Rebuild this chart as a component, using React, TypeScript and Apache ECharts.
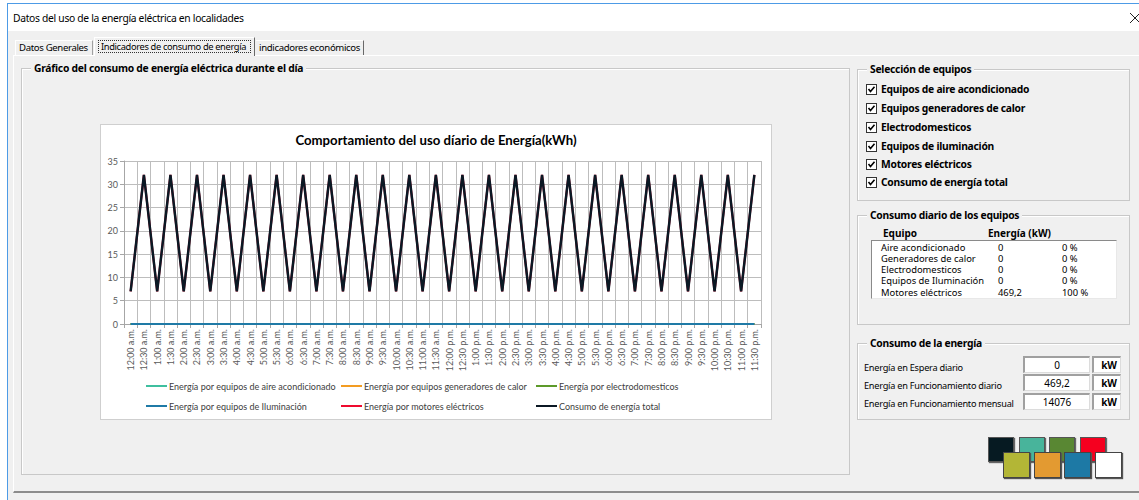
import React, { useEffect, useRef } from "react";
import * as echarts from "echarts";

const categories = [
  "12:00 a.m.", "12:30 a.m.", "1:00 a.m.", "1:30 a.m.", "2:00 a.m.", "2:30 a.m.",
  "3:00 a.m.", "3:30 a.m.", "4:00 a.m.", "4:30 a.m.", "5:00 a.m.", "5:30 a.m.",
  "6:00 a.m.", "6:30 a.m.", "7:00 a.m.", "7:30 a.m.", "8:00 a.m.", "8:30 a.m.",
  "9:00 a.m.", "9:30 a.m.", "10:00 a.m.", "10:30 a.m.", "11:00 a.m.", "11:30 a.m.",
  "12:00 p.m.", "12:30 p.m.", "1:00 p.m.", "1:30 p.m.", "2:00 p.m.", "2:30 p.m.",
  "3:00 p.m.", "3:30 p.m.", "4:00 p.m.", "4:30 p.m.", "5:00 p.m.", "5:30 p.m.",
  "6:00 p.m.", "6:30 p.m.", "7:00 p.m.", "7:30 p.m.", "8:00 p.m.", "8:30 p.m.",
  "9:00 p.m.", "9:30 p.m.", "10:00 p.m.", "10:30 p.m.", "11:00 p.m.", "11:30 p.m.",
];

const aireValues = [
  0, 0, 0, 0, 0, 0, 0, 0, 0, 0, 0, 0, 0, 0, 0, 0, 0, 0, 0, 0, 0, 0, 0, 0,
  0, 0, 0, 0, 0, 0, 0, 0, 0, 0, 0, 0, 0, 0, 0, 0, 0, 0, 0, 0, 0, 0, 0, 0,
];
const calorValues = [
  0, 0, 0, 0, 0, 0, 0, 0, 0, 0, 0, 0, 0, 0, 0, 0, 0, 0, 0, 0, 0, 0, 0, 0,
  0, 0, 0, 0, 0, 0, 0, 0, 0, 0, 0, 0, 0, 0, 0, 0, 0, 0, 0, 0, 0, 0, 0, 0,
];
const electroValues = [
  0, 0, 0, 0, 0, 0, 0, 0, 0, 0, 0, 0, 0, 0, 0, 0, 0, 0, 0, 0, 0, 0, 0, 0,
  0, 0, 0, 0, 0, 0, 0, 0, 0, 0, 0, 0, 0, 0, 0, 0, 0, 0, 0, 0, 0, 0, 0, 0,
];
const iluminacionValues = [
  0, 0, 0, 0, 0, 0, 0, 0, 0, 0, 0, 0, 0, 0, 0, 0, 0, 0, 0, 0, 0, 0, 0, 0,
  0, 0, 0, 0, 0, 0, 0, 0, 0, 0, 0, 0, 0, 0, 0, 0, 0, 0, 0, 0, 0, 0, 0, 0,
];
const motoresValues = [
  7, 32, 7, 32, 7, 32, 7, 32, 7, 32, 7, 32, 7, 32, 7, 32, 7, 32, 7, 32, 7, 32, 7, 32,
  7, 32, 7, 32, 7, 32, 7, 32, 7, 32, 7, 32, 7, 32, 7, 32, 7, 32, 7, 32, 7, 32, 7, 32,
];
const totalValues = [
  7, 32, 7, 32, 7, 32, 7, 32, 7, 32, 7, 32, 7, 32, 7, 32, 7, 32, 7, 32, 7, 32, 7, 32,
  7, 32, 7, 32, 7, 32, 7, 32, 7, 32, 7, 32, 7, 32, 7, 32, 7, 32, 7, 32, 7, 32, 7, 32,
];

const seriesNames = [
  "Energía por equipos de aire acondicionado",
  "Energía por equipos generadores de calor",
  "Energía por electrodomesticos",
  "Energía por equipos de Iluminación",
  "Energía por motores eléctricos",
  "Consumo de energía total",
];
const seriesColors = ["#3fbf9f", "#f39c22", "#5d9a2a", "#1f7aa6", "#ef0a2e", "#0b1824"];

const checkItems = [
  "Equipos de aire acondicionado",
  "Equipos generadores de calor",
  "Electrodomesticos",
  "Equipos de iluminación",
  "Motores eléctricos",
  "Consumo de energía total",
];

const tableEquipos = ["Aire acondicionado", "Generadores de calor", "Electrodomesticos", "Equipos de Iluminación", "Motores eléctricos"];
const tableEnergia = ["0", "0", "0", "0", "469,2"];
const tablePct = ["0 %", "0 %", "0 %", "0 %", "100 %"];

const consumoLabels = ["Energía en Espera diario", "Energía en Funcionamiento diario", "Energía en Funcionamiento mensual"];
const consumoValues = ["0", "469,2", "14076"];

const swatchTop = ["#061a22", "#48b49b", "#598733", "#f5001f"];
const swatchBottom = ["#b3b636", "#e39a31", "#1d79a5", "#ffffff"];

const UI_FONT = "'Noto Sans', 'Liberation Sans', sans-serif";

function Chart() {
  const ref = useRef<HTMLDivElement>(null);
  useEffect(() => {
    if (!ref.current) return;
    const chart = echarts.init(ref.current, undefined, { renderer: "svg" });
    const seriesData = [aireValues, calorValues, electroValues, iluminacionValues, motoresValues, totalValues];
    const widths = [2, 2, 2, 2, 2.1, 2.5];
    const legendBase = {
      orient: "vertical",
      top: 256,
      padding: 0,
      height: 36,
      itemWidth: 21,
      itemHeight: 2,
      itemGap: 10,
      icon: "rect",
      selectedMode: false,
      textStyle: { fontSize: 9, color: "#404040", fontFamily: "Lato", lineHeight: 10, padding: [0, 0, 0, -3] },
    };
    chart.setOption({
      animation: false,
      backgroundColor: "#ffffff",
      textStyle: { fontFamily: "Lato" },
      title: {
        text: "Comportamiento del uso díario de Energía(kWh)",
        left: "center",
        top: 3,
        textStyle: { fontSize: 13.2, fontWeight: "bold", color: "#000", fontFamily: "Lato" },
      },
      grid: { left: 23, right: 10, top: 36, bottom: 95 },
      xAxis: {
        type: "category",
        data: categories,
        boundaryGap: true,
        axisLine: { lineStyle: { color: "#a6a6a6" } },
        axisTick: { show: true, interval: 0, length: 4, lineStyle: { color: "#a6a6a6" } },
        splitLine: { show: true, interval: 0, lineStyle: { color: "#bdbdbd", width: 1 } },
        axisLabel: { interval: 0, rotate: 90, fontSize: 9, color: "#595959", margin: 5, fontFamily: "Lato" },
      },
      yAxis: {
        type: "value",
        min: 0,
        max: 35,
        interval: 5,
        axisLine: { show: true, lineStyle: { color: "#a6a6a6" } },
        axisTick: { show: true, length: 4, lineStyle: { color: "#a6a6a6" } },
        splitLine: { show: true, lineStyle: { color: "#bdbdbd", width: 1 } },
        axisLabel: { fontSize: 9, color: "#595959", margin: 6, fontFamily: "Lato" },
      },
      legend: [
        { ...legendBase, left: 45, data: [seriesNames[0], seriesNames[3]] },
        { ...legendBase, left: 240, data: [seriesNames[1], seriesNames[4]] },
        { ...legendBase, left: 435, data: [seriesNames[2], seriesNames[5]] },
      ],
      series: seriesNames.map((name, i) => ({
        name,
        type: "line",
        data: seriesData[i],
        symbol: "none",
        showSymbol: false,
        lineStyle: { color: seriesColors[i], width: widths[i] },
        itemStyle: { color: seriesColors[i] },
        z: 2 + i,
      })),
    });
    return () => chart.dispose();
  }, []);
  return <div ref={ref} style={{ width: 670, height: 294 }} />;
}

const boldText: React.CSSProperties = { fontWeight: "bold", fontSize: 10.3, letterSpacing: -0.25, whiteSpace: "nowrap" };

function GroupBox(props: { left: number; top: number; width: number; height: number; title: string; children?: React.ReactNode }) {
  return (
    <div
      style={{
        position: "absolute",
        left: props.left,
        top: props.top,
        width: props.width,
        height: props.height,
        border: "1px solid #c8c8c8",
        boxShadow: "inset 1px 1px 0 #ffffff",
        boxSizing: "border-box",
      }}
    >
      <div style={{ ...boldText, position: "absolute", left: 9, top: -8, padding: "0 3px", background: "#f0f0f0", lineHeight: "15px" }}>
        {props.title}
      </div>
      {props.children}
    </div>
  );
}

function CheckBox(props: { top: number; label: string }) {
  return (
    <div style={{ position: "absolute", left: 866, top: props.top - 6, height: 12, whiteSpace: "nowrap" }}>
      <svg width={11} height={11} style={{ position: "absolute", left: 0, top: 1 }}>
        <rect x={0.5} y={0.5} width={10} height={10} fill="#ffffff" stroke="#333333" />
        <polyline points="2.5,5 4.5,7.5 8.5,2.8" fill="none" stroke="#000" strokeWidth={1.6} />
      </svg>
      <span style={{ ...boldText, position: "absolute", left: 15, top: -1, lineHeight: "15px" }}>{props.label}</span>
    </div>
  );
}

const sunken: React.CSSProperties = {
  position: "absolute",
  background: "#ffffff",
  borderTop: "1px solid #8a8a8a",
  borderLeft: "1px solid #8a8a8a",
  borderRight: "1px solid #dcdcdc",
  borderBottom: "1px solid #dcdcdc",
  boxSizing: "border-box",
};

const tabText: React.CSSProperties = { fontSize: 9.6, letterSpacing: -0.35, whiteSpace: "nowrap" };

export default function App() {
  const rowY = [89, 108, 127, 145.5, 164, 182];
  const listY = [247.5, 259, 270, 281, 292.5];
  const consY = [367.5, 385.5, 404];
  const boxTop = [356, 374, 392.5];
  return (
    <div
      style={{
        position: "fixed",
        left: 0,
        top: 0,
        width: 1139,
        height: 500,
        background: "#ffffff",
        overflow: "hidden",
        fontFamily: UI_FONT,
        color: "#000",
      }}
    >
      {/* window */}
      <div style={{ position: "absolute", left: 7, top: 3, width: 1140, height: 500, borderLeft: "1px solid #4d9be6", borderTop: "1px solid #4d9be6", background: "#fff" }} />
      <div style={{ position: "absolute", left: 8, top: 31, width: 1131, height: 469, background: "#f0f0f0" }} />
      <div style={{ position: "absolute", left: 13, top: 10, fontSize: 10.3, letterSpacing: -0.3, lineHeight: "16px", whiteSpace: "nowrap" }}>
        Datos del uso de la energía eléctrica en localidades
      </div>
      <svg width={12} height={12} style={{ position: "absolute", left: 1129, top: 12 }}>
        <line x1={1} y1={1} x2={11} y2={11} stroke="#222" strokeWidth={1} />
        <line x1={11} y1={1} x2={1} y2={11} stroke="#222" strokeWidth={1} />
      </svg>

      {/* tab page */}
      <div style={{ position: "absolute", left: 13, top: 55, width: 1130, height: 438, borderTop: "1px solid #ffffff", borderLeft: "1px solid #ffffff", borderBottom: "2px solid #8c8c8c", boxSizing: "border-box" }} />
      {/* tabs */}
      <div style={{ ...tabText, position: "absolute", left: 15, top: 40, width: 78, height: 15, borderTop: "1px solid #fff", borderLeft: "1px solid #fff", borderRight: "1px solid #a0a0a0", boxSizing: "border-box", lineHeight: "13px", paddingLeft: 3 }}>
        Datos Generales
      </div>
      <div style={{ position: "absolute", left: 94, top: 37, width: 161, height: 19, background: "#f0f0f0", borderTop: "1px solid #fff", borderLeft: "1px solid #fff", borderRight: "1px solid #696969", boxSizing: "border-box" }}>
        <div style={{ ...tabText, fontSize: 9.3, position: "absolute", left: 3, top: 2, width: 153, height: 13, border: "1px dotted #333", boxSizing: "border-box", lineHeight: "11px", paddingLeft: 2 }}>
          Indicadores de consumo de energía
        </div>
      </div>
      <div style={{ ...tabText, position: "absolute", left: 256, top: 40, width: 108, height: 15, borderTop: "1px solid #fff", borderRight: "1px solid #696969", boxSizing: "border-box", lineHeight: "13px", paddingLeft: 3 }}>
        indicadores económicos
      </div>

      {/* chart group */}
      <GroupBox left={21} top={68} width={829} height={407} title="Gráfico del consumo de energía eléctrica durante el día" />
      <div style={{ position: "absolute", left: 100, top: 124, width: 672, height: 296, border: "1px solid #cfcfcf", boxSizing: "border-box", background: "#fff" }}>
        <Chart />
      </div>

      {/* selection */}
      <GroupBox left={857} top={69} width={273} height={132} title="Selección de equipos" />
      {checkItems.map((t, i) => (
        <CheckBox key={t} top={rowY[i]} label={t} />
      ))}

      {/* consumo diario */}
      <GroupBox left={857} top={215} width={273} height={110} title="Consumo diario de los equipos" />
      <div style={{ position: "absolute", left: 883, top: 226, fontWeight: "bold", fontSize: 10, lineHeight: "14px" }}>Equipo</div>
      <div style={{ position: "absolute", left: 988, top: 226, fontWeight: "bold", fontSize: 10, lineHeight: "14px" }}>Energía (kW)</div>
      <div style={{ ...sunken, left: 871, top: 240, width: 246, height: 59, borderRight: "1px solid #e8e8e8", borderBottom: "1px solid #e8e8e8" }} />
      {tableEquipos.map((t, i) => (
        <React.Fragment key={t}>
          <div style={{ position: "absolute", left: 881, top: listY[i] - 6, fontSize: 9.4, lineHeight: "12px", whiteSpace: "nowrap" }}>{t}</div>
          <div style={{ position: "absolute", left: 998, top: listY[i] - 6, fontSize: 9.4, lineHeight: "12px", whiteSpace: "nowrap" }}>{tableEnergia[i]}</div>
          <div style={{ position: "absolute", left: 1062, top: listY[i] - 6, fontSize: 9.4, lineHeight: "12px", whiteSpace: "nowrap" }}>{tablePct[i]}</div>
        </React.Fragment>
      ))}

      {/* consumo energia */}
      <GroupBox left={857} top={343} width={273} height={77} title="Consumo de la energía" />
      {consumoLabels.map((t, i) => (
        <React.Fragment key={t}>
          <div style={{ position: "absolute", left: 864, top: consY[i] - 7, fontSize: 9.2, letterSpacing: -0.25, lineHeight: "14px", whiteSpace: "nowrap" }}>{t}</div>
          <div style={{ ...sunken, left: 1023, top: boxTop[i], width: 67, height: 17, borderTop: "2px solid #a0a0a0", borderLeft: "2px solid #a0a0a0", fontSize: 10, lineHeight: "14px", textAlign: "center" }}>
            {consumoValues[i]}
          </div>
          <div style={{ ...sunken, left: 1092, top: boxTop[i], width: 29, height: 17, borderTop: "2px solid #a0a0a0", borderLeft: "2px solid #a0a0a0", fontSize: 10, fontWeight: "bold", lineHeight: "14px", textAlign: "right", paddingRight: 3 }}>
            kW
          </div>
        </React.Fragment>
      ))}

      {/* swatches */}
      {swatchTop.map((c, i) => (
        <div key={"t" + i} style={{ position: "absolute", left: 988 + i * 30.7, top: 437, width: 26, height: 25, background: c, border: "1px solid #555", boxSizing: "border-box", boxShadow: "1px 1px 1px #666" }} />
      ))}
      {swatchBottom.map((c, i) => (
        <div key={"b" + i} style={{ position: "absolute", left: 1003 + i * 30.7, top: 452, width: 27, height: 26, background: c, border: "1px solid #444", boxSizing: "border-box", boxShadow: "1px 1px 1px #555" }} />
      ))}
    </div>
  );
}
